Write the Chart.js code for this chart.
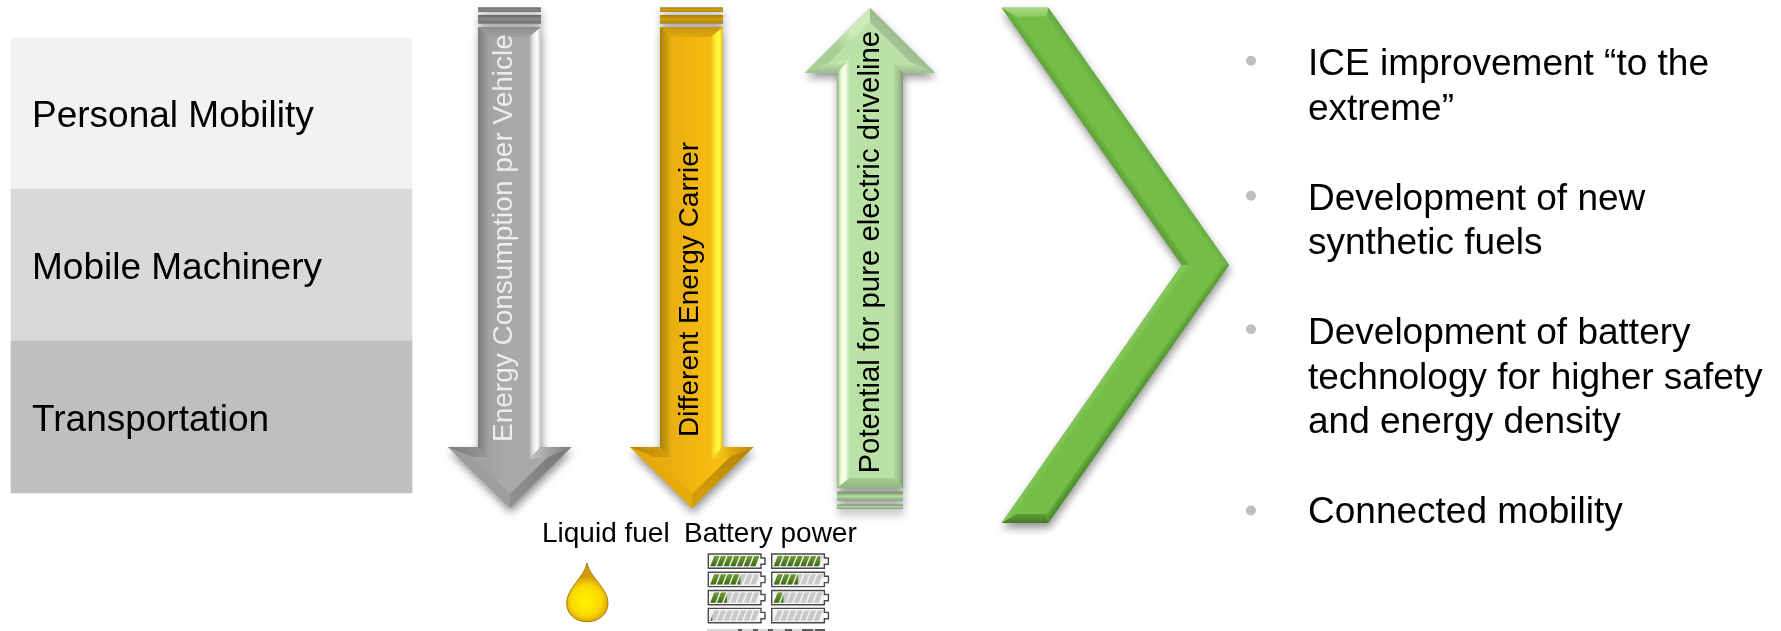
<!DOCTYPE html>
<html>
<head>
<meta charset="utf-8">
<title>Drivetrain development overview</title>
<style>
  html, body { margin: 0; padding: 0; background: #ffffff; }
  canvas { display: block; }
</style>
<script src="https://cdn.jsdelivr.net/npm/chart.js@4/dist/chart.umd.js"></script>
</head>
<body>
<canvas id="slide" width="1781" height="631"></canvas>
<script>
// Application segments on the left
const rowLabels = ['Personal Mobility', 'Mobile Machinery', 'Transportation'];
const rowBounds = [[38, 189], [189, 341], [341, 493]];
const rowColors = ['#F2F2F2', '#D9D9D9', '#BFBFBF'];

// Arrow captions, read bottom to top
const arrowCaptions = ['Energy Consumption per Vehicle', 'Different Energy Carrier', 'Potential for pure electric driveline'];
const carrierLabels = ['Liquid fuel', 'Battery power'];

// Right-hand bullet list
const bulletLines = [
  ['ICE improvement \u201Cto the', 'extreme\u201D'],
  ['Development of new', 'synthetic fuels'],
  ['Development of battery', 'technology for higher safety', 'and energy density'],
  ['Connected mobility']
];
const bulletBaselines = [[75, 119.5], [209.5, 253.5], [344, 388.5, 433], [523]];
const bulletDotY = [60.7, 195.7, 329.3, 510.5];

// Charge level of each battery icon, left column then right column
const batteryLevelsLeft = [1, 0.62, 0.34, 0.04];
const batteryLevelsRight = [0.95, 0.5, 0.2, 0];
// Dark fragments of the battery row cut off by the bottom edge
const cutoffMarks = [[738, 742], [753, 758], [768, 773], [785, 792], [802, 813], [815, 825]];

// Arrow outlines with the matching inner edge of the bevel
const grayOuter = [[478, 27], [541, 27], [541, 447], [571.5, 447], [510, 508], [448, 447], [478, 447]];
const grayInner = [[488, 37], [529, 37], [529, 459], [548, 457], [510, 494], [472, 457], [488, 457]];
const amberOuter = [[660, 27], [723, 27], [723, 447], [753.5, 447], [692, 508], [630, 447], [660, 447]];
const amberInner = [[670, 37], [711, 37], [711, 459], [730, 457], [692, 494], [654, 457], [670, 457]];
const greenOuter = [[870, 8], [935, 72.7], [903, 72.7], [903, 488], [837, 488], [837, 72.7], [805, 72.7]];
const greenInner = [[870, 22], [911, 62.7], [894, 62.7], [894, 478], [849, 478], [849, 60], [829, 62.7]];
const chevronOuter = [[1001.7, 7.7], [1048.3, 7.7], [1229, 265], [1048.3, 523], [1001.7, 523], [1181.7, 265]];
const chevronInner = [[1016, 16.5], [1046.5, 16.5], [1221, 265], [1046.5, 514], [1016, 514], [1189.7, 265]];

// Stripes trailing behind each arrow
const grayStripes = [[478, 541, 7.5, 12], [478, 541, 15, 23.5]];
const amberStripes = [[660, 723, 7.5, 12], [660, 723, 15, 23.5]];
const greenStripes = [[837, 903, 491.7, 500.7], [837, 903, 504.7, 508.7]];

const xDomain = 1781;
const yDomain = 631;

// Gradient specs: horizontal, vertical or diagonal, evenly spaced stops
const hGrad = (x0, x1, ...stops) => ({ x0, x1, y0: 0, y1: 0, stops });
const vGrad = (y0, y1, ...stops) => ({ x0: 0, x1: 0, y0, y1, stops });
const diag = (x0, y0, x1, y1, ...stops) => ({ x0, y0, x1, y1, stops });

function paint(spec) {
  if (typeof spec === 'string') return spec;
  return (c) => {
    const { width, height, ctx } = c.chart;
    const g = ctx.createLinearGradient(
      spec.x0 / xDomain * width, spec.y0 / yDomain * height,
      spec.x1 / xDomain * width, spec.y1 / yDomain * height);
    spec.stops.forEach((col, i) => g.addColorStop(i / (spec.stops.length - 1), col));
    return g;
  };
}

function polygon(points, fillSpec, castShadow) {
  return {
    type: 'line',
    data: points.map(([x, y]) => ({ x, y })),
    fill: 'shape',
    tension: 0,
    borderWidth: 0,
    pointRadius: 0,
    backgroundColor: paint(fillSpec),
    castShadow: !!castShadow
  };
}

// One quad per outline edge, between the outer and the inner contour
function bevel(outer, inner, fills) {
  return fills.map((spec, i) => {
    const j = (i + 1) % outer.length;
    return polygon([outer[i], outer[j], inner[j], inner[i]], spec);
  });
}

const stripes = (list, spec) => list.map(([a, b, t, u]) => polygon([[a, t], [b, t], [b, u], [a, u]], spec(t, u), true));

// Layers listed from back to front
const layers = [
  polygon(grayOuter, '#A8A8A8', true),
  polygon(grayInner, hGrad(488, 529, '#A2A2A2', '#AAAAAA', '#A8A8A8')),
  ...bevel(grayOuter, grayInner, [
    vGrad(27, 37, '#8E8E8E', '#A0A0A0'),
    hGrad(529, 541, '#A8A8A8', '#E4E4E4', '#FFFFFF', '#C4C4C4'),
    hGrad(529, 571, '#C4C4C4', '#A0A0A0', '#7C7C7C'),
    diag(560, 452, 540, 500, '#7A7A7A', '#8E8E8E'),
    diag(470, 490, 495, 470, '#9C9C9C', '#9E9E9E'),
    hGrad(448, 488, '#7C7C7C', '#969696'),
    hGrad(478, 488, '#7A7A7A', '#A0A0A0')
  ]),
  ...stripes(grayStripes, (t, u) => vGrad(t, u, '#666666', '#8A8A8A', '#6E6E6E')),

  polygon(amberOuter, '#F0B510', true),
  polygon(amberInner, hGrad(670, 711, '#E8AE10', '#F0B510', '#F6BC10')),
  ...bevel(amberOuter, amberInner, [
    vGrad(27, 37, '#C49410', '#E2A80E'),
    hGrad(711, 723, '#F8C010', '#FFE830', '#FFFF40', '#E8B820'),
    hGrad(711, 753, '#FFD42A', '#E0A80C', '#B88A0A'),
    diag(742, 452, 722, 500, '#B58608', '#D19C08'),
    diag(652, 490, 677, 470, '#E2A60C', '#E8AC0C'),
    hGrad(630, 670, '#B48608', '#D8A00C'),
    hGrad(660, 670, '#A88008', '#E0A80E')
  ]),
  ...stripes(amberStripes, (t, u) => vGrad(t, u, '#A47C08', '#D4A010', '#A98208')),

  polygon(greenOuter, '#B9E0A5', true),
  polygon(greenInner, '#BAE1A6'),
  ...bevel(greenOuter, greenInner, [
    diag(905, 30, 890, 46, '#93B082', '#A8C99A'),
    vGrad(62.7, 72.7, '#C2E4AE', '#9DBC8E'),
    hGrad(894, 903, '#B0D69C', '#A2C492', '#7F9A72'),
    vGrad(478, 488, '#A5CC90', '#92B681'),
    hGrad(837, 849, '#8FAC80', '#E8FFD4', '#F8FFEE', '#C2E6AE'),
    vGrad(60, 72.7, '#CDEDB9', '#9BBC8A'),
    diag(835, 46, 850, 30, '#A8D092', '#CCEBB9')
  ]),
  ...stripes(greenStripes, (t, u) => vGrad(t, u, '#6F8A62', '#B6DCA2', '#86A576')),

  polygon(chevronOuter, '#74BE48', true),
  ...bevel(chevronOuter, chevronInner, [
    vGrad(7.7, 16.5, '#A6D97A', '#8ECB62'),
    diag(1132, 140, 1139, 135, '#74BE48', '#66A840'),
    diag(1132, 390, 1139, 395, '#74BE48', '#4A8A2A'),
    vGrad(514, 523, '#5F9C3A', '#447A26'),
    diag(1091, 394, 1098, 399, '#86C75C', '#74BE48'),
    diag(1091, 136, 1098, 131, '#5F9F3A', '#72BB46')
  ])
];

const rowDataset = {
  type: 'bar',
  data: rowBounds.map((bounds) => ({ x: 211.5, y: bounds })),
  backgroundColor: rowColors,
  borderWidth: 0,
  barThickness: 401
};

const bulletDataset = {
  type: 'line',
  showLine: false,
  data: bulletDotY.map((y) => ({ x: 1251, y })),
  pointRadius: 5,
  pointBackgroundColor: '#BFBFBF',
  pointBorderWidth: 0
};

// Soft drop shadows behind outlined shapes
const shadowPlugin = {
  id: 'softShadow',
  beforeDatasetsDraw(chart) {
    const { ctx } = chart;
    chart.data.datasets.forEach((ds, i) => {
      if (!ds.castShadow) return;
      const pts = chart.getDatasetMeta(i).data;
      ctx.save();
      ctx.shadowColor = 'rgba(0,0,0,0.42)';
      ctx.shadowBlur = 9;
      ctx.shadowOffsetY = 5;
      ctx.shadowOffsetX = 1;
      ctx.fillStyle = '#999999';
      ctx.beginPath();
      pts.forEach((p, k) => (k ? ctx.lineTo(p.x, p.y) : ctx.moveTo(p.x, p.y)));
      ctx.closePath();
      ctx.fill();
      ctx.restore();
    });
  }
};

function drawBattery(ctx, X, Y, level, outline) {
  const x0 = X(0), y0 = Y(0), w = X(52.7) - x0, h = Y(14.3) - y0;
  const n = 7, pitch = (w - 6) / n, slant = 4;
  ctx.save();
  ctx.fillStyle = '#F4F4F4';
  ctx.fillRect(x0, y0, w, h);
  ctx.save();
  ctx.beginPath();
  ctx.rect(x0 + 1.5, y0 + 1.5, w - 3, h - 3);
  ctx.clip();
  const stripeRow = (color) => {
    ctx.fillStyle = color;
    for (let s = 0; s < n; s++) {
      const sx = x0 + 2 + s * pitch;
      ctx.beginPath();
      ctx.moveTo(sx, y0 + h - 2);
      ctx.lineTo(sx + slant, y0 + 2);
      ctx.lineTo(sx + slant + pitch - 1.6, y0 + 2);
      ctx.lineTo(sx + pitch - 1.6, y0 + h - 2);
      ctx.closePath();
      ctx.fill();
    }
  };
  stripeRow('#C8C8CA');
  ctx.beginPath();
  ctx.rect(x0, y0, 2 + level * (w - 4), h);
  ctx.clip();
  const g = ctx.createLinearGradient(0, y0, 0, y0 + h);
  g.addColorStop(0, '#7FA83A');
  g.addColorStop(1, '#2F6010');
  stripeRow(g);
  ctx.restore();
  ctx.strokeStyle = outline;
  ctx.lineWidth = 1.4;
  ctx.beginPath();
  ctx.moveTo(x0, y0);
  ctx.lineTo(x0 + w, y0);
  ctx.lineTo(x0 + w, y0 + 4);
  ctx.lineTo(x0 + w + 4, y0 + 4);
  ctx.lineTo(x0 + w + 4, y0 + h - 4);
  ctx.lineTo(x0 + w, y0 + h - 4);
  ctx.lineTo(x0 + w, y0 + h);
  ctx.lineTo(x0, y0 + h);
  ctx.closePath();
  ctx.stroke();
  ctx.restore();
}

// Text labels and the two carrier icons
const annotationPlugin = {
  id: 'annotations',
  afterDatasetsDraw(chart) {
    const { ctx, scales: { x, y } } = chart;
    const px = (v) => x.getPixelForValue(v);
    const py = (v) => y.getPixelForValue(v);
    ctx.save();
    ctx.textBaseline = 'alphabetic';
    ctx.textAlign = 'left';

    ctx.fillStyle = '#000000';
    ctx.font = '37px "Liberation Sans"';
    rowLabels.forEach((label, i) => {
      const mid = (rowBounds[i][0] + rowBounds[i][1]) / 2;
      ctx.fillText(label, px(32), py(mid + 13.8));
    });

    const captionStyle = [
      { x: 512, y: 442, color: '#EDEDED', size: 28 },
      { x: 697.5, y: 437, color: '#000000', size: 28 },
      { x: 878.5, y: 473.5, color: '#000000', size: 29.4 }
    ];
    arrowCaptions.forEach((caption, i) => {
      const s = captionStyle[i];
      ctx.save();
      ctx.translate(px(s.x), py(s.y));
      ctx.rotate(-Math.PI / 2);
      ctx.fillStyle = s.color;
      ctx.font = s.size + 'px "Liberation Sans"';
      ctx.fillText(caption, 0, 0);
      ctx.restore();
    });

    ctx.fillStyle = '#000000';
    ctx.font = '28px "Liberation Sans"';
    ctx.fillText(carrierLabels[0], px(542), py(542));
    ctx.fillText(carrierLabels[1], px(684), py(542));

    ctx.font = '37px "Liberation Sans"';
    bulletLines.forEach((lines, i) => {
      lines.forEach((line, k) => ctx.fillText(line, px(1308), py(bulletBaselines[i][k])));
    });

    // Fuel drop
    const drop = ctx.createRadialGradient(px(585), py(601), 2, px(587), py(600), 24);
    drop.addColorStop(0, '#FFF200');
    drop.addColorStop(0.6, '#FBD800');
    drop.addColorStop(1, '#D39A08');
    ctx.fillStyle = drop;
    ctx.strokeStyle = '#A87C14';
    ctx.lineWidth = 1;
    ctx.beginPath();
    ctx.moveTo(px(587), py(563));
    ctx.bezierCurveTo(px(590), py(578), px(608), py(588), px(608), py(603));
    ctx.bezierCurveTo(px(608), py(615), px(598), py(621.7), px(587), py(621.7));
    ctx.bezierCurveTo(px(576), py(621.7), px(566.7), py(615), px(566.7), py(603));
    ctx.bezierCurveTo(px(566.7), py(588), px(584), py(578), px(587), py(563));
    ctx.closePath();
    ctx.fill();
    ctx.stroke();

    // Battery icons, with the next row running off the bottom edge
    const rowTops = [554, 572.3, 590.5, 608.4];
    rowTops.forEach((top, r) => {
      drawBattery(ctx, (v) => px(708.3 + v), (v) => py(top + v), batteryLevelsLeft[r], '#4A4A4A');
      drawBattery(ctx, (v) => px(771.7 + v), (v) => py(top + v), batteryLevelsRight[r], '#4A4A4A');
    });
    ctx.fillStyle = '#D8D8D8';
    ctx.fillRect(px(707), py(629), px(825) - px(707), py(631) - py(629));
    ctx.fillStyle = '#5A5A5A';
    cutoffMarks.forEach(([a, b]) => ctx.fillRect(px(a), py(629), px(b) - px(a), py(631) - py(629)));
    ctx.restore();
  }
};

new Chart(document.getElementById('slide'), {
  type: 'line',
  data: { datasets: [bulletDataset, ...layers.slice().reverse(), rowDataset] },
  options: {
    responsive: false,
    animation: false,
    events: [],
    layout: { padding: 0, autoPadding: false },
    plugins: { legend: { display: false }, tooltip: { enabled: false } },
    scales: {
      x: { type: 'linear', min: 0, max: xDomain, display: false, offset: false },
      y: { type: 'linear', min: 0, max: yDomain, reverse: true, display: false }
    }
  },
  plugins: [shadowPlugin, annotationPlugin]
});
</script>
</body>
</html>
